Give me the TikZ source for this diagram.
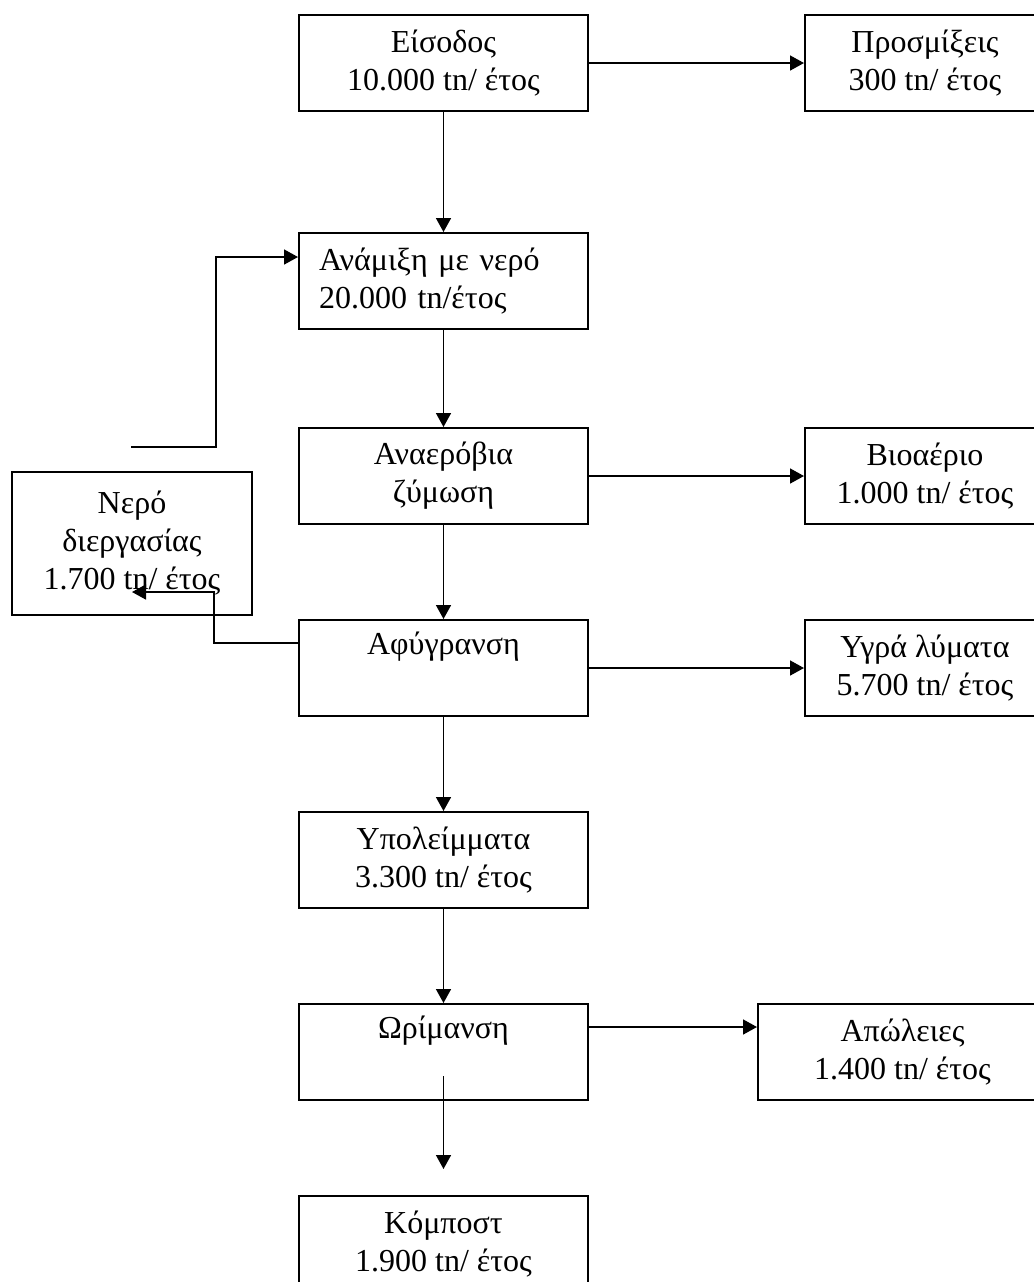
\documentclass[tikz,border=0pt]{standalone}
\usepackage{fontspec}
\setmainfont{Liberation Serif}
\usetikzlibrary{arrows.meta,positioning}
\tikzset{
    process/.style = {rectangle, minimum width=144.5pt, minimum height=48pt, align=center, draw=black, line width=1pt, font=\fontsize{16pt}{19pt}\selectfont},
    product/.style = {process, minimum width=120pt},
    flow/.style = {->, line width=0.8pt}
}

\begin{document}
\begin{tikzpicture}[node distance=48pt, >={Triangle[length=7pt,width=7.5pt]}]
    \useasboundingbox (0,0) rectangle (517pt,-641pt);

    % Nodes
    \node [process] (eisodos) at (221.75pt,-31.5pt) {Είσοδος\\10.000 tn/ έτος};
    \node [process, below=60pt of eisodos, text width=124.5pt, inner xsep=10pt, align=left] (anamixi) {Ανάμιξη με νερό\\20.000 tn/έτος};
    \node [process, below=48.5pt of anamixi] (anaerovia) {Αναερόβια\\ζύμωση};
    \node [process, below of=anaerovia, yshift=-48pt] (afygransi) {Αφύγρανση\\\strut};
    \node [process, below of=afygransi, yshift=-48pt] (ypoleimmata) {Υπολείμματα\\3.300 tn/ έτος};
    \node [process, below of=ypoleimmata, yshift=-48pt] (orimansi) {Ωρίμανση\\\strut};
    \node [process, below of=orimansi, yshift=-48pt] (kompost) {Κόμποστ\\1.900 tn/ έτος};

    \node [product, right=107.5pt of eisodos] (prosmixeis) {Προσμίξεις\\300 tn/ έτος};
    \node [product, right=107.5pt of anaerovia] (viaerio) {Βιοαέριο\\1.000 tn/ έτος};
    \node [product, right=107.5pt of afygransi] (ygra) {Υγρά λύματα\\5.700 tn/ έτος};
    \node [process, right=84pt of orimansi] (apoleies) {Απώλειες\\1.400 tn/ έτος};
    \node [product, minimum height=71.5pt] (nero) at (66pt,-271.75pt) {Νερό\\διεργασίας\\1.700 tn/ έτος};
    \coordinate (recycle) at (65.5pt,-223.5pt);

    % Arrows
    \draw [flow] (eisodos) -- (prosmixeis);
    \draw [flow] (eisodos) -- (anamixi);
    \draw [flow] (recycle) -- ++(42.5pt,0) |- ([yshift=12pt]anamixi.west);
    \draw [flow] (anamixi) -- (anaerovia);
    \draw [flow] (anaerovia) -- (viaerio);
    \draw [flow] (anaerovia) -- (afygransi);
    \draw [flow] ([yshift=12.5pt]afygransi.west) -- ++(-42pt,0) |- ([yshift=-24.25pt]nero.center);
    \draw [flow] (afygransi) -- (ygra);
    \draw [flow] (afygransi) -- (ypoleimmata);
    \draw [flow] (ypoleimmata) -- (orimansi);
    \draw [flow] ([yshift=12.5pt]orimansi.east) -- ([yshift=12.5pt]apoleies.west);
    \draw [flow] ([yshift=-12pt]orimansi.center) -- ([yshift=13pt]kompost.north);
\end{tikzpicture}
\end{document}
